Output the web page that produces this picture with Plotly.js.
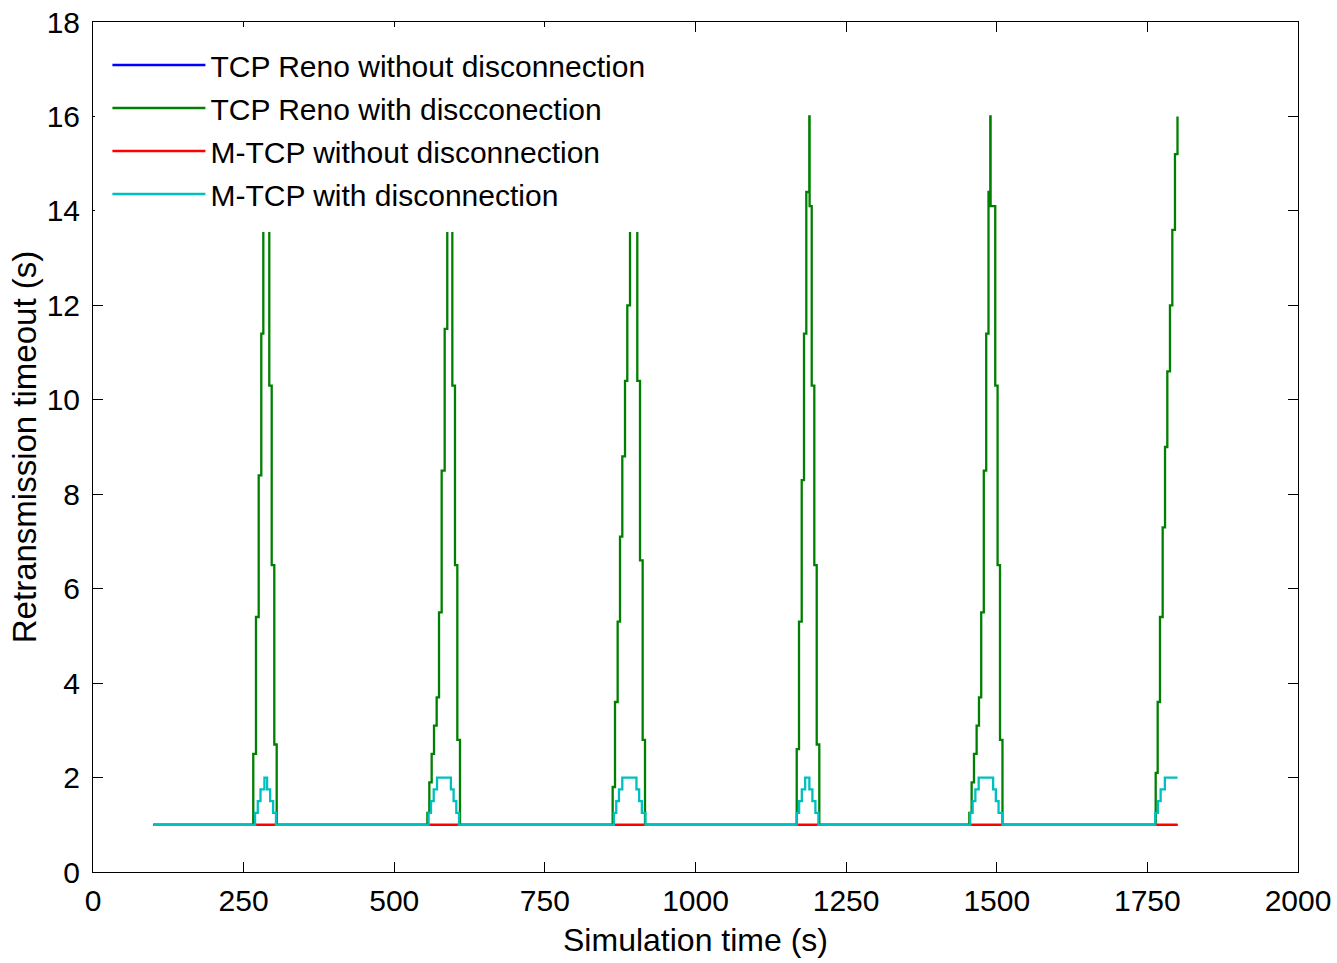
<!DOCTYPE html>
<html>
<head>
<meta charset="utf-8">
<script src="https://cdn.plot.ly/plotly-3.0.1.min.js"></script>
<style>html,body{margin:0;padding:0;background:#fff;}#chart{width:1337px;height:963px;}</style>
</head>
<body>
<div id="chart"></div>
<script>
// Series names
var seriesNames = ["TCP Reno without disconnection", "TCP Reno with discconection", "M-TCP without disconnection", "M-TCP with disconnection"];

// TCP Reno without disconnection (constant RTO)
var renoNoDiscTime = [100, 1800];
var renoNoDiscRTO = [1, 1];

// TCP Reno with disconnection: value becomes RTO at given time (step)
var renoDiscTime = [100,
  266, 270.5, 275, 279.3, 282.7, 287, 287.5, 292.6, 296.6, 300.9, 304.9,
  555, 558.2, 562.1, 566, 570.4, 574.3, 578.7, 583.7, 588, 592, 592.5, 596.4, 600.8, 604.7, 609.1,
  862.5, 866.4, 870.8, 874.7, 878.5, 883, 886.8, 891.3, 895.2, 899, 899.5, 903.4, 907.9, 912.3, 916.2,
  1168, 1171.8, 1176.3, 1180.1, 1183.9, 1188.9, 1189.4, 1192.9, 1197.2, 1201.2, 1205.5,
  1454.5, 1458.3, 1462.2, 1466.6, 1470.5, 1474.2, 1478.5, 1482.5, 1486.3, 1489.3, 1489.8, 1497.5, 1501.4, 1505.4, 1509.5,
  1763.8, 1767.1, 1770.9, 1775.4, 1779.3, 1783.1, 1787.5, 1791.4, 1795.8, 1800];
var renoDiscRTO = [1,
  2.5, 5.4, 8.4, 11.4, 14.4, 16, 14.1, 10.3, 6.5, 2.7, 1,
  1.25, 1.9, 2.5, 3.1, 3.7, 5.5, 8.5, 11.5, 14.4, 16, 14.1, 10.3, 6.5, 2.8, 1,
  1.8, 3.6, 5.3, 7.1, 8.8, 10.4, 12, 13.6, 15.2, 16, 14.1, 10.4, 6.6, 2.8, 1,
  2.6, 5.3, 8.3, 11.4, 14.4, 16, 14.1, 10.3, 6.5, 2.7, 1,
  1.25, 1.9, 2.5, 3.1, 3.7, 5.5, 8.5, 11.4, 14.4, 16, 14.1, 10.3, 6.5, 2.8, 1,
  2.1, 3.6, 5.4, 7.3, 9.0, 10.6, 12.0, 13.6, 15.2, 16];

// M-TCP without disconnection (constant RTO)
var mtcpNoDiscTime = [100, 1800];
var mtcpNoDiscRTO = [1, 1];

// M-TCP with disconnection (step)
var mtcpDiscTime = [100,
  269, 273.5, 278, 284.5, 289, 294, 299, 303.7,
  557, 561, 565.5, 571, 594, 598.5, 603, 607.5,
  864.5, 868.5, 873, 878.5, 902, 906.5, 911, 917,
  1168, 1172, 1176.5, 1182, 1189, 1194, 1199, 1204,
  1456, 1460, 1464.5, 1470, 1494, 1498.5, 1503, 1509.5,
  1763, 1767.5, 1772, 1779, 1800];
var mtcpDiscRTO = [1,
  1.25, 1.5, 1.75, 2, 1.75, 1.5, 1.25, 1,
  1.25, 1.5, 1.75, 2, 1.75, 1.5, 1.25, 1,
  1.25, 1.5, 1.75, 2, 1.75, 1.5, 1.25, 1,
  1.25, 1.5, 1.75, 2, 1.75, 1.5, 1.25, 1,
  1.25, 1.5, 1.75, 2, 1.75, 1.5, 1.25, 1,
  1.25, 1.5, 1.75, 2, 2];

var xTicks = [0, 250, 500, 750, 1000, 1250, 1500, 1750, 2000];
var yTicks = [0, 2, 4, 6, 8, 10, 12, 14, 16, 18];

var colors = ["#0000FF", "#008000", "#FF0000", "#00BFBF"];
var FONT = "Liberation Sans, Arial, sans-serif";

function tr(x, y, i) {
  return {x: x, y: y, type: "scatter", mode: "lines", name: seriesNames[i],
    legendgroup: "g" + i, line: {color: colors[i], width: 2.3, shape: "hv"}};
}

var data = [
  tr(renoNoDiscTime, renoNoDiscRTO, 0),
  tr(renoDiscTime, renoDiscRTO, 1),
  tr(mtcpNoDiscTime, mtcpNoDiscRTO, 2),
  tr(mtcpDiscTime, mtcpDiscRTO, 3)
];

var axisCommon = {
  showgrid: false, zeroline: false, showline: true, linecolor: "#000", linewidth: 1,
  mirror: "ticks", ticks: "inside", ticklen: 10, tickcolor: "#000", tickwidth: 1,
  tickfont: {family: FONT, size: 30, color: "#000"}
};

var layout = {
  width: 1337, height: 963,
  margin: {l: 93, r: 39, t: 22, b: 91},
  paper_bgcolor: "#fff", plot_bgcolor: "#fff",
  font: {family: FONT, color: "#000"},
  showlegend: true,
  legend: {x: 0.002, y: 0.9941, xanchor: "left", yanchor: "top", bgcolor: "#fff",
    bordercolor: "#fff", borderwidth: 12, font: {family: FONT, size: 30, color: "#000"},
    tracegroupgap: 1, traceorder: "grouped", itemwidth: 93},
  xaxis: Object.assign({}, axisCommon, {range: [0, 2000], tickvals: xTicks,
    ticktext: xTicks.map(String), ticklabelstandoff: 2,
    title: {text: "Simulation time (s)", font: {family: FONT, size: 32, color: "#000"}, standoff: 12}}),
  yaxis: Object.assign({}, axisCommon, {range: [0, 18], tickvals: yTicks,
    ticktext: yTicks.map(String), ticklabelstandoff: 6,
    title: {text: "Retransmission timeout (s)", font: {family: FONT, size: 33, color: "#000"}, standoff: 0}})
};

Plotly.newPlot("chart", data, layout, {displayModeBar: false, staticPlot: true});
</script>
</body>
</html>
